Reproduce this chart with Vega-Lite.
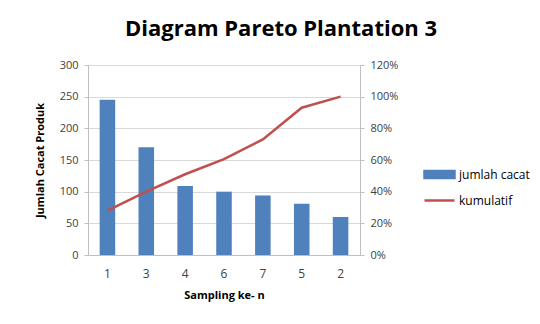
{
  "$schema": "https://vega.github.io/schema/vega-lite/v6.json",
  "width": 272,
  "height": 190,
  "autosize": {"type": "none"},
  "padding": {"left": 88, "top": 65, "right": 180, "bottom": 69},
  "background": "white",
  "title": {
    "text": "Diagram Pareto Plantation 3",
    "font": "Open Sans",
    "fontSize": 22,
    "fontWeight": "bold",
    "color": "#000000",
    "anchor": "middle",
    "frame": "group",
    "dx": 57,
    "offset": 18
  },
  "config": {
    "view": {"stroke": null},
    "font": "Open Sans",
    "axis": {
      "labelFont": "Open Sans",
      "labelFontSize": 11,
      "labelColor": "#404040",
      "titleFont": "Open Sans",
      "titleFontSize": 11,
      "titleFontWeight": "bold",
      "titleColor": "#000000",
      "domainColor": "#BFBFBF",
      "tickColor": "#BFBFBF",
      "gridColor": "#D9D9D9"
    }
  },
  "data": {
    "values": [
      {"sampling": "1", "jumlah": 245, "kumulatif": 0.28},
      {"sampling": "3", "jumlah": 170, "kumulatif": 0.40},
      {"sampling": "4", "jumlah": 109, "kumulatif": 0.51},
      {"sampling": "6", "jumlah": 100, "kumulatif": 0.605},
      {"sampling": "7", "jumlah": 94, "kumulatif": 0.73},
      {"sampling": "5", "jumlah": 81, "kumulatif": 0.93},
      {"sampling": "2", "jumlah": 60, "kumulatif": 1.0}
    ]
  },
  "encoding": {
    "x": {
      "field": "sampling",
      "type": "nominal",
      "sort": null,
      "scale": {"paddingInner": 0.6, "paddingOuter": 0.3},
      "axis": {
        "title": "Sampling ke- n",
        "labelAngle": 0,
        "ticks": false,
        "labelPadding": 13,
        "titlePadding": 10,
        "labelFontSize": 12
      }
    }
  },
  "layer": [
    {
      "mark": {"type": "bar", "color": "#4F81BD"},
      "encoding": {
        "y": {
          "field": "jumlah",
          "type": "quantitative",
          "scale": {"domain": [0, 300]},
          "axis": {
            "title": "Jumlah Cacat Produk",
            "values": [0, 50, 100, 150, 200, 250, 300],
            "tickSize": 4,
            "labelPadding": 6,
            "titlePadding": 14,
            "grid": true
          }
        },
        "color": {
          "datum": "jumlah cacat",
          "type": "nominal",
          "scale": {"domain": ["jumlah cacat", "kumulatif"], "range": ["#4F81BD", "#C0504D"]},
          "legend": {
            "title": null,
            "orient": "none",
            "legendX": 335,
            "legendY": 93,
            "labelFont": "Open Sans",
            "labelFontSize": 12,
            "labelColor": "#000000",
            "symbolSize": 900,
            "rowPadding": -3,
            "labelOffset": 3,
            "encode": {
              "symbols": {
                "update": {
                  "shape": {"signal": "datum.value == 'kumulatif' ? 'stroke' : 'M-1,-0.24H1V0.24H-1Z'"},
                  "fill": {"signal": "datum.value == 'kumulatif' ? 'transparent' : '#4F81BD'"},
                  "stroke": {"signal": "datum.value == 'kumulatif' ? '#C0504D' : 'transparent'"},
                  "strokeWidth": {"value": 2.5},
                  "opacity": {"value": 1}
                }
              }
            }
          }
        }
      }
    },
    {
      "mark": {"type": "line", "color": "#C0504D", "strokeWidth": 2.5},
      "encoding": {
        "y": {
          "field": "kumulatif",
          "type": "quantitative",
          "scale": {"domain": [0, 1.2]},
          "axis": {
            "title": null,
            "orient": "right",
            "format": ".0%",
            "values": [0, 0.2, 0.4, 0.6, 0.8, 1.0, 1.2],
            "tickSize": 4,
            "labelPadding": 6,
            "grid": false
          }
        },
        "color": {"datum": "kumulatif", "type": "nominal"}
      }
    }
  ],
  "resolve": {"scale": {"y": "independent"}}
}
